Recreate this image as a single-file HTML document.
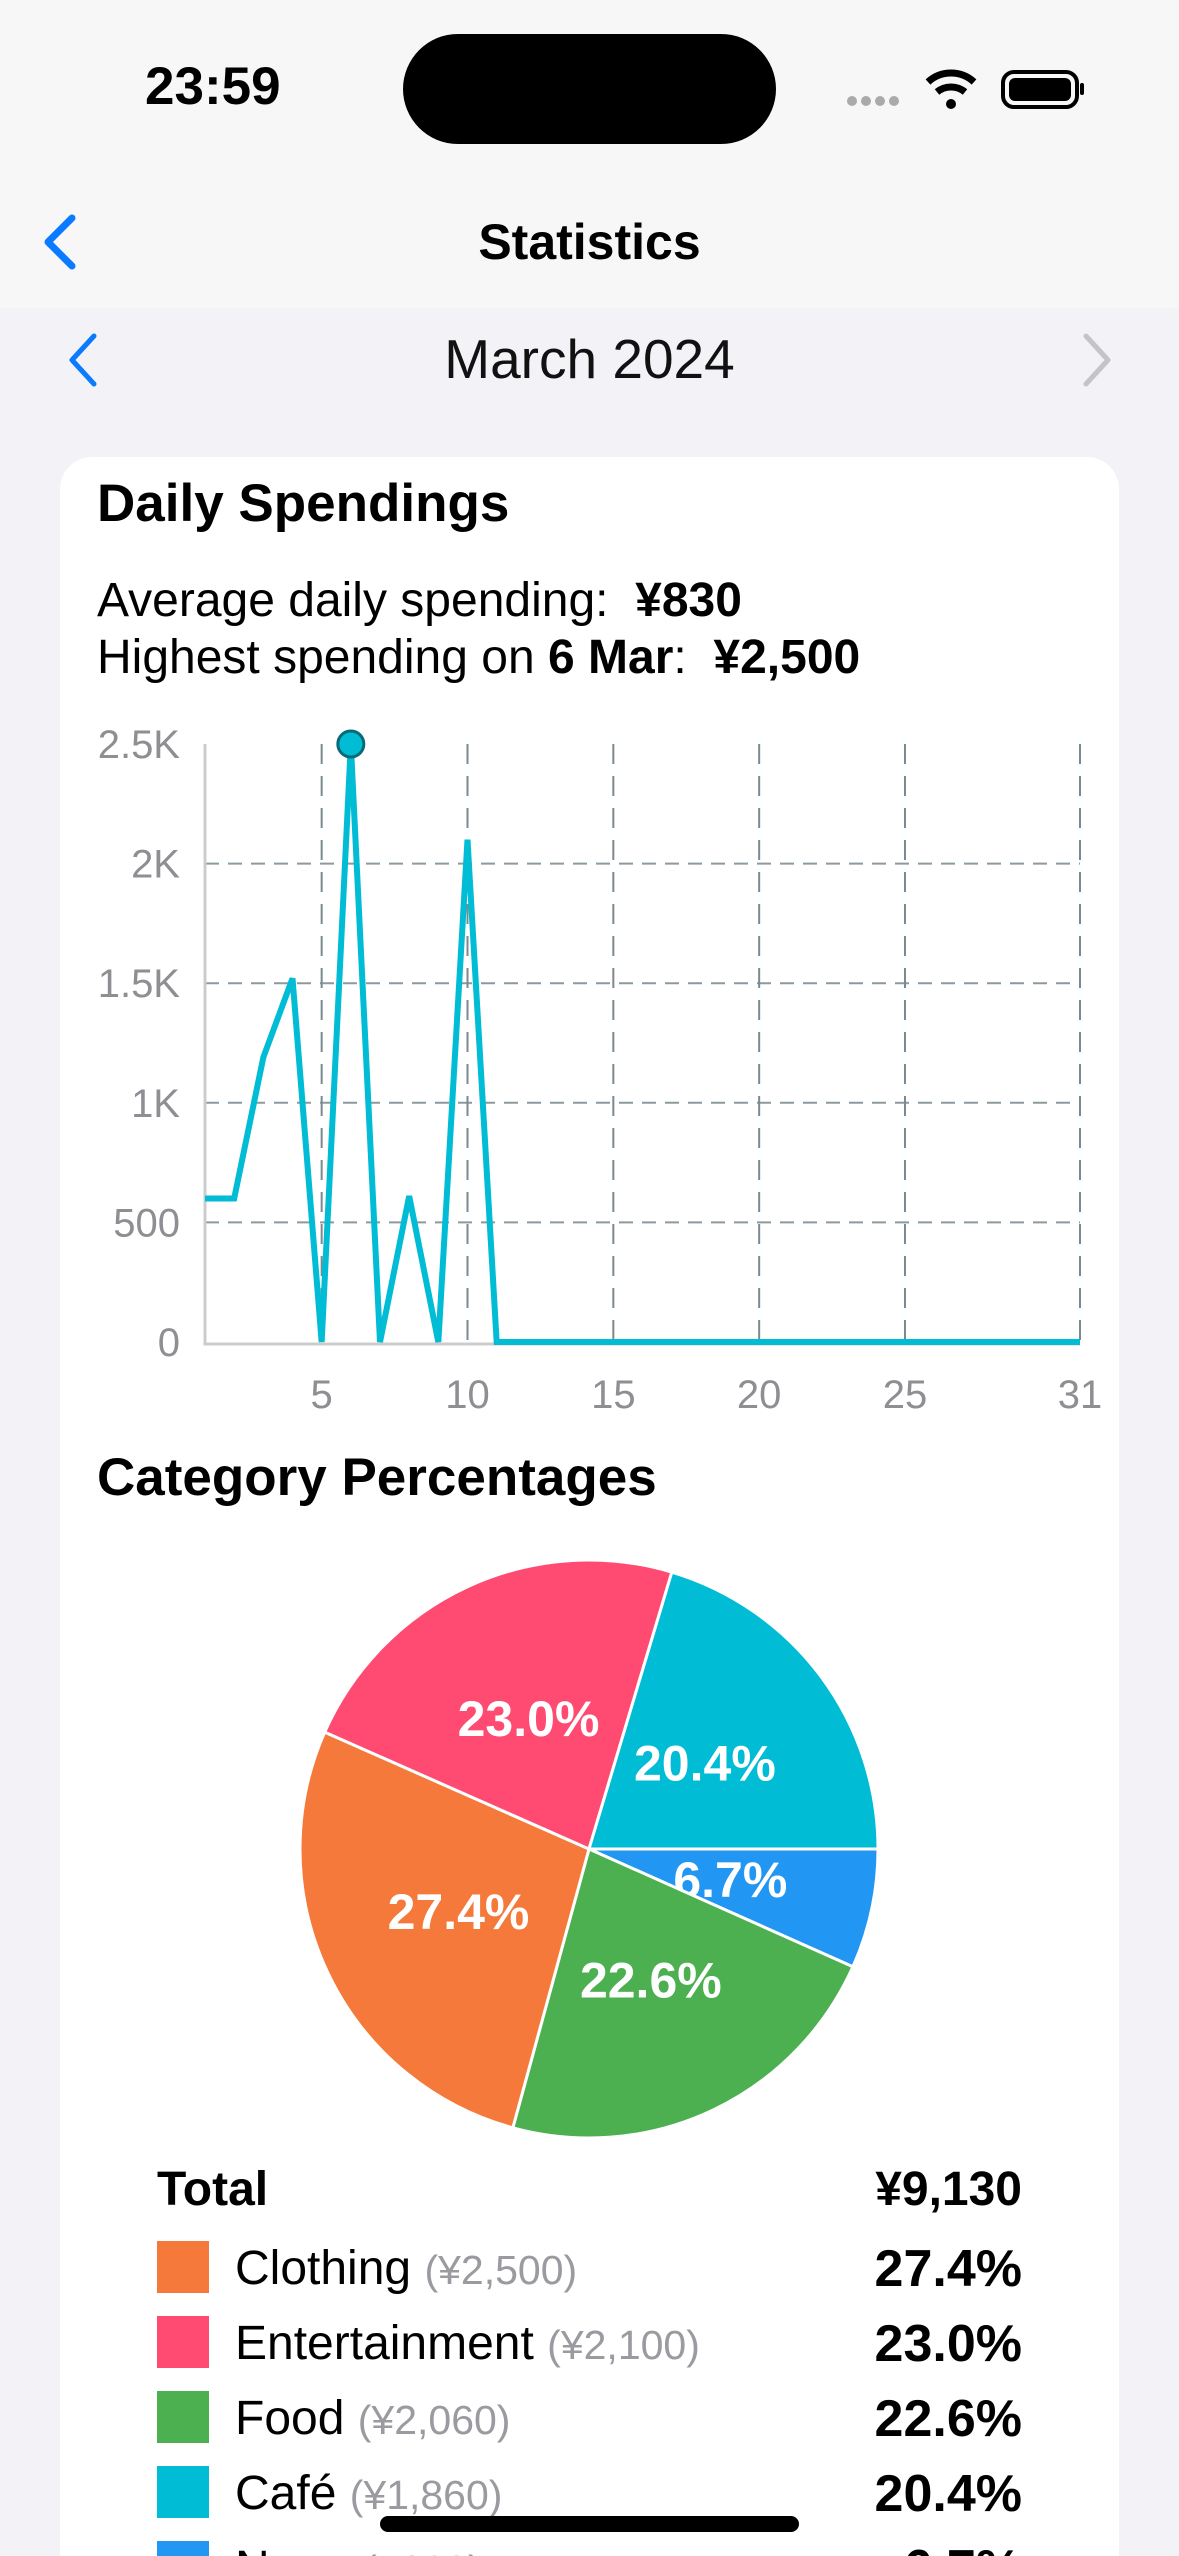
<!DOCTYPE html>
<html style="height:2556px;overflow:hidden"><head><meta charset="utf-8"><style>
body{margin:0;width:1179px;height:2556px;background:#f2f2f7;font-family:"Liberation Sans",sans-serif;position:relative;overflow:hidden}
.abs{position:absolute}
</style></head><body>
<div class="abs" style="left:0;top:0;width:1179px;height:308px;background:#f7f7f7"></div>
<div class="abs" style="left:145px;top:56px;font-size:53px;font-weight:bold;color:#000">23:59</div>
<div class="abs" style="left:403px;top:34px;width:373px;height:110px;border-radius:55px;background:#000"></div>
<svg class="abs" style="left:840px;top:60px" width="250" height="60">
<g fill="#aaa"><circle cx="12" cy="41" r="5"/><circle cx="26" cy="41" r="5"/><circle cx="40" cy="41" r="5"/><circle cx="54" cy="41" r="5"/></g>
<path d="M88 22 A34 34 0 0 1 134 22" stroke="#000" stroke-width="7" fill="none"/>
<path d="M97 32 A22 22 0 0 1 125 32" stroke="#000" stroke-width="7" fill="none"/>
<circle cx="111" cy="44" r="5" fill="#000"/>
<rect x="163" y="12" width="74" height="35" rx="11" fill="none" stroke="#000" stroke-width="4"/>
<rect x="169" y="18" width="62" height="23" rx="6" fill="#000"/>
<rect x="240" y="23" width="4" height="12" rx="2" fill="#000"/>
</svg>
<svg class="abs" style="left:38px;top:212px" width="45" height="60"><path d="M34 6 L10 30 L34 54" stroke="#0a7aff" stroke-width="7" fill="none" stroke-linecap="round" stroke-linejoin="round"/></svg>
<div class="abs" style="left:0;width:1179px;top:213px;text-align:center;font-size:50px;font-weight:bold">Statistics</div>
<svg class="abs" style="left:64px;top:332px" width="40" height="56"><path d="M30 4 L8 28 L30 52" stroke="#0a7aff" stroke-width="5" fill="none" stroke-linecap="round" stroke-linejoin="round"/></svg>
<div class="abs" style="left:0;width:1179px;top:327px;text-align:center;font-size:55px;color:#111">March 2024</div>
<svg class="abs" style="left:1076px;top:332px" width="40" height="56"><path d="M10 4 L32 28 L10 52" stroke="#c4c4c7" stroke-width="5" fill="none" stroke-linecap="round" stroke-linejoin="round"/></svg>
<div class="abs" style="left:60px;top:457px;width:1059px;height:2099px;background:#fff;border-radius:32px 32px 0 0"></div>
<div class="abs" style="left:97px;top:473px;font-size:53px;font-weight:bold">Daily Spendings</div>
<div class="abs" style="left:97px;top:573px;font-size:48px">Average daily spending:&nbsp; <b>¥830</b></div>
<div class="abs" style="left:97px;top:630px;font-size:48px">Highest spending on <b>6 Mar</b>:&nbsp; <b>¥2,500</b></div>
<svg class="abs" id="line" style="left:0;top:700px" width="1179" height="720"></svg>
<div class="abs" style="left:97px;top:1447px;font-size:53px;font-weight:bold">Category Percentages</div>
<svg class="abs" id="pie" style="left:0;top:1520px" width="1179" height="660"></svg>
<div class="abs" style="left:157px;top:2162px;font-size:48px;font-weight:bold">Total</div>
<div class="abs" style="left:700px;width:322px;text-align:right;top:2162px;font-size:48px;font-weight:bold">¥9,130</div>
<div id="legend"></div>
<div class="abs" style="left:380px;top:2516px;width:419px;height:16px;border-radius:8px;background:#000;z-index:5"></div>
<script>
const days=[1,2,3,4,5,6,7,8,9,10,11,12,13,14,15,16,17,18,19,20,21,22,23,24,25,26,27,28,29,30,31];
const spend=[600,600,1190,1520,0,2500,0,610,0,2100,0,0,0,0,0,0,0,0,0,0,0,0,0,0,0,0,0,0,0,0,0];
const yTicks=[0,500,1000,1500,2000,2500];
const yTickLabels=["0","500","1K","1.5K","2K","2.5K"];
const xTicks=[5,10,15,20,25,31];
const cats=["Clothing","Entertainment","Food","Café","None"];
const amounts=[2500,2100,2060,1860,610];
const pcts=["27.4%","23.0%","22.6%","20.4%","6.7%"];
const amountLabels=["(¥2,500)","(¥2,100)","(¥2,060)","(¥1,860)","(¥610)"];
const colors=["#f5793a","#ff4b72","#4caf50","#00bcd4","#2196f3"];
const NS="http://www.w3.org/2000/svg";
function mk(p,t,a){const e=document.createElementNS(NS,t);for(const k in a)e.setAttribute(k,a[k]);p.appendChild(e);return e;}
const L=document.getElementById('line');
const X=d=>205+(d-1)*(1080-205)/30, Y=v=>642-v*(642-44)/2500;
yTicks.forEach((v,i)=>{
 if(v>0&&v<2500){const g=mk(L,'line',{x1:205,x2:1080,y1:Y(v),y2:Y(v),stroke:'#8a9aa0','stroke-width':2,'stroke-dasharray':'14 9'});
 }
 const t=mk(L,'text',{x:180,y:Y(v)+14,'text-anchor':'end','font-size':40,fill:'#8e8e93'});t.textContent=yTickLabels[i];
 
});
xTicks.forEach(d=>{
 const g=mk(L,'line',{x1:X(d),x2:X(d),y1:44,y2:642,stroke:'#7a8a90','stroke-width':2,'stroke-dasharray':'20 12'});
 
 const t=mk(L,'text',{x:X(d),y:708,'text-anchor':'middle','font-size':40,fill:'#8e8e93'});t.textContent=d;
 
});
const ax=mk(L,'path',{d:`M205 44 V644 H1080`,stroke:'#ccc','stroke-width':3,fill:'none'});

const pl=mk(L,'polyline',{points:days.map((d,i)=>X(d)+','+Y(spend[i])).join(' '),fill:'none',stroke:'#00bcd4','stroke-width':6,'stroke-linejoin':'miter'});

let mi=spend.indexOf(Math.max(...spend));
const mc=mk(L,'circle',{cx:X(days[mi]),cy:Y(spend[mi]),r:13,fill:'#00bcd4',stroke:'#0a6a78','stroke-width':3});

const P=document.getElementById('pie');const cx=589,cy=329,r=289;
const total=amounts.reduce((a,b)=>a+b,0);
const order=[4,2,0,1,3];let a=0;
order.forEach(i=>{
 const sw=amounts[i]/total*2*Math.PI,a2=a+sw;
 const p=mk(P,'path',{d:`M${cx} ${cy} L${cx+r*Math.cos(a)} ${cy+r*Math.sin(a)} A${r} ${r} 0 ${sw>Math.PI?1:0} 1 ${cx+r*Math.cos(a2)} ${cy+r*Math.sin(a2)} Z`,fill:colors[i],stroke:'#fff','stroke-width':3});
 
 const m=(a+a2)/2;
 const t=mk(P,'text',{x:cx+0.5*r*Math.cos(m),y:cy+0.5*r*Math.sin(m)+18,'text-anchor':'middle','font-size':50,'font-weight':'bold',fill:'#fff'});t.textContent=pcts[i];
 
 a=a2;
});
const LG=document.getElementById('legend');
cats.forEach((c,i)=>{
 const y=2241+i*75;
 const row=document.createElement('div');row.className='abs';row.style.cssText=`left:157px;top:${y}px;width:865px;height:60px`;
 
 
 row.innerHTML=`<div style="position:absolute;left:0;top:0;width:52px;height:52px;background:${colors[i]}"></div><div style="position:absolute;left:78px;top:0px;font-size:48px;white-space:nowrap">${c} <span style="color:#9a9aa0;font-size:41px">${amountLabels[i]}</span></div><div style="position:absolute;right:0;top:-2px;font-size:52px;font-weight:bold">${pcts[i]}</div>`;
 LG.appendChild(row);
});
</script>
</body></html>
